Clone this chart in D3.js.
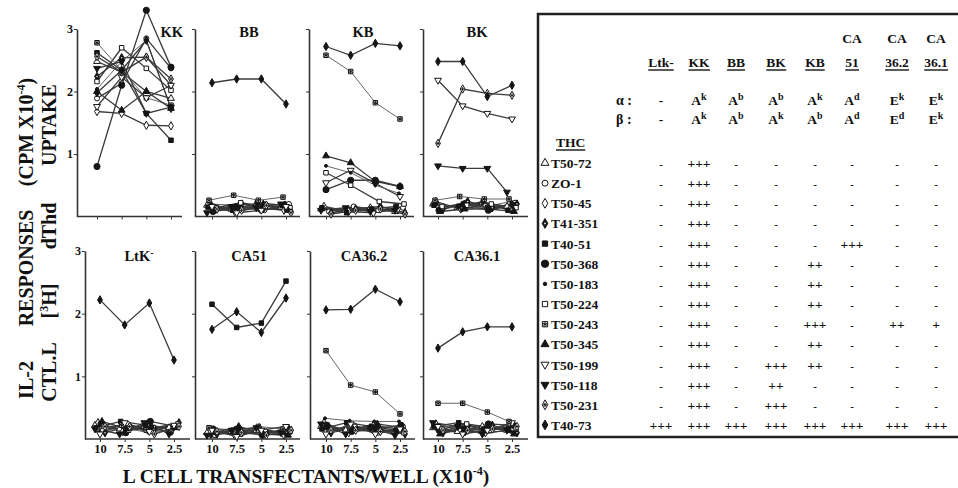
<!DOCTYPE html>
<html>
<head>
<meta charset="utf-8">
<script src="https://cdn.jsdelivr.net/npm/d3@7"></script>
<style>
body { margin: 0; background: #fff; }
svg { display: block; }
text { font-family: "Liberation Serif", "Times New Roman", serif; fill: #111; }
</style>
</head>
<body>
<svg id="fig" width="958" height="488"></svg>
<script>
let doses = ["10", "7.5", "5", "2.5"]
let y_ticks = [1, 2, 3]
let clones = ["T50-72", "ZO-1", "T50-45", "T41-351", "T40-51", "T50-368", "T50-183",
    "T50-224", "T50-243", "T50-345", "T50-199", "T50-118", "T50-231", "T40-73"]
let panel_titles = ["KK", "BB", "KB", "BK", "LtK", "CA51", "CA36.2", "CA36.1"]

// [clone, dose 10, 7.5, 5, 2.5]  (CPM x10^-4)
let kk_data = [
    ["T50-72", 2.48, 2.31, 2.00, 1.89],
    ["ZO-1", 1.89, 2.13, 2.85, 2.37],
    ["T50-45", 1.68, 1.65, 1.46, 1.45],
    ["T41-351", 2.24, 2.54, 2.55, 2.10],
    ["T40-51", 2.62, 2.34, 1.65, 1.22],
    ["T50-368", 0.80, 2.10, 3.30, 2.39],
    ["T50-183", 2.04, 2.48, 2.82, 1.73],
    ["T50-224", 2.16, 2.70, 2.37, 2.02],
    ["T50-243", 2.78, 2.34, 1.90, 1.78],
    ["T50-345", 2.00, 1.70, 2.00, 1.73],
    ["T50-199", 1.76, 2.23, 1.90, 2.10],
    ["T50-118", 2.37, 2.48, 1.65, 1.75],
    ["T50-231", 2.56, 2.31, 2.55, 2.20],
    ["T40-73", 1.98, 2.34, 2.82, 1.73],
]
let bb_data = [
    ["T50-72", 0.18, 0.12, 0.20, 0.15],
    ["ZO-1", 0.10, 0.16, 0.10, 0.20],
    ["T50-45", 0.22, 0.08, 0.14, 0.10],
    ["T41-351", 0.12, 0.20, 0.18, 0.08],
    ["T40-51", 0.15, 0.10, 0.22, 0.18],
    ["T50-368", 0.08, 0.14, 0.12, 0.12],
    ["T50-183", 0.20, 0.18, 0.08, 0.22],
    ["T50-224", 0.14, 0.22, 0.16, 0.14],
    ["T50-345", 0.10, 0.12, 0.20, 0.10],
    ["T50-199", 0.16, 0.06, 0.10, 0.16],
    ["T50-118", 0.06, 0.16, 0.14, 0.20],
    ["T50-231", 0.12, 0.10, 0.18, 0.06],
    ["T50-243", 0.26, 0.34, 0.26, 0.31],
    ["T40-73", 2.14, 2.20, 2.20, 1.80],
]
let kb_data = [
    ["T50-72", 0.12, 0.10, 0.14, 0.08],
    ["ZO-1", 0.08, 0.16, 0.10, 0.14],
    ["T50-45", 0.16, 0.08, 0.06, 0.12],
    ["T41-351", 0.06, 0.12, 0.16, 0.06],
    ["T40-51", 0.14, 0.06, 0.12, 0.16],
    ["T50-118", 0.10, 0.14, 0.08, 0.10],
    ["T50-231", 0.04, 0.10, 0.12, 0.04],
    ["T50-368", 0.43, 0.58, 0.58, 0.48],
    ["T50-199", 0.54, 0.74, 0.53, 0.32],
    ["T50-224", 0.70, 0.50, 0.24, 0.20],
    ["T50-183", 0.81, 0.70, 0.50, 0.37],
    ["T50-345", 0.97, 0.86, 0.56, 0.48],
    ["T50-243", 2.58, 2.32, 1.82, 1.56],
    ["T40-73", 2.72, 2.58, 2.77, 2.73],
]
let bk_data = [
    ["T50-72", 0.20, 0.14, 0.22, 0.16],
    ["ZO-1", 0.14, 0.22, 0.12, 0.22],
    ["T50-45", 0.24, 0.12, 0.18, 0.12],
    ["T41-351", 0.12, 0.24, 0.14, 0.20],
    ["T40-51", 0.18, 0.16, 0.24, 0.10],
    ["T50-368", 0.10, 0.20, 0.10, 0.18],
    ["T50-183", 0.22, 0.10, 0.16, 0.24],
    ["T50-224", 0.16, 0.18, 0.20, 0.14],
    ["T50-345", 0.08, 0.12, 0.12, 0.08],
    ["T50-243", 0.26, 0.32, 0.28, 0.28],
    ["T50-118", 0.81, 0.77, 0.77, 0.39],
    ["T50-231", 1.17, 2.04, 1.97, 1.94],
    ["T50-199", 2.18, 1.77, 1.65, 1.56],
    ["T40-73", 2.48, 2.48, 1.92, 2.10],
]
let ltk_data = [
    ["T50-72", 0.22, 0.16, 0.20, 0.18],
    ["ZO-1", 0.14, 0.24, 0.12, 0.22],
    ["T50-45", 0.26, 0.12, 0.24, 0.14],
    ["T41-351", 0.10, 0.20, 0.16, 0.26],
    ["T40-51", 0.18, 0.28, 0.22, 0.10],
    ["T50-368", 0.24, 0.10, 0.28, 0.20],
    ["T50-183", 0.12, 0.18, 0.10, 0.16],
    ["T50-224", 0.20, 0.14, 0.18, 0.24],
    ["T50-243", 0.16, 0.22, 0.14, 0.12],
    ["T50-345", 0.28, 0.16, 0.20, 0.18],
    ["T50-199", 0.08, 0.26, 0.12, 0.22],
    ["T50-118", 0.16, 0.08, 0.26, 0.08],
    ["T50-231", 0.20, 0.20, 0.08, 0.20],
    ["T40-73", 2.22, 1.82, 2.17, 1.26],
]
let ca51_data = [
    ["T50-72", 0.10, 0.12, 0.14, 0.10],
    ["ZO-1", 0.06, 0.16, 0.08, 0.16],
    ["T50-45", 0.14, 0.06, 0.18, 0.06],
    ["T41-351", 0.08, 0.10, 0.10, 0.14],
    ["T50-368", 0.16, 0.14, 0.06, 0.18],
    ["T50-183", 0.04, 0.18, 0.16, 0.08],
    ["T50-224", 0.12, 0.08, 0.12, 0.12],
    ["T50-243", 0.18, 0.12, 0.20, 0.16],
    ["T50-345", 0.10, 0.20, 0.08, 0.06],
    ["T50-199", 0.14, 0.04, 0.14, 0.20],
    ["T50-118", 0.06, 0.14, 0.18, 0.10],
    ["T50-231", 0.12, 0.10, 0.06, 0.14],
    ["T40-51", 2.15, 1.78, 1.85, 2.52],
    ["T40-73", 1.75, 2.03, 1.70, 2.25],
]
let ca362_data = [
    ["T50-72", 0.20, 0.14, 0.18, 0.12],
    ["ZO-1", 0.12, 0.22, 0.10, 0.20],
    ["T50-45", 0.26, 0.10, 0.22, 0.16],
    ["T41-351", 0.10, 0.18, 0.14, 0.08],
    ["T40-51", 0.16, 0.26, 0.20, 0.14],
    ["T50-368", 0.22, 0.12, 0.16, 0.22],
    ["T50-224", 0.14, 0.20, 0.12, 0.10],
    ["T50-345", 0.18, 0.16, 0.24, 0.18],
    ["T50-199", 0.08, 0.24, 0.08, 0.16],
    ["T50-118", 0.24, 0.08, 0.18, 0.06],
    ["T50-231", 0.14, 0.14, 0.12, 0.12],
    ["T50-183", 0.33, 0.29, 0.28, 0.28],
    ["T50-243", 1.41, 0.86, 0.75, 0.40],
    ["T40-73", 2.06, 2.07, 2.39, 2.19],
]
let ca361_data = [
    ["T50-72", 0.18, 0.12, 0.20, 0.14],
    ["ZO-1", 0.12, 0.22, 0.14, 0.20],
    ["T50-45", 0.24, 0.14, 0.10, 0.24],
    ["T41-351", 0.10, 0.20, 0.22, 0.10],
    ["T40-51", 0.20, 0.26, 0.16, 0.16],
    ["T50-368", 0.14, 0.10, 0.24, 0.22],
    ["T50-183", 0.22, 0.18, 0.12, 0.12],
    ["T50-224", 0.16, 0.24, 0.18, 0.18],
    ["T50-345", 0.08, 0.16, 0.20, 0.08],
    ["T50-199", 0.20, 0.08, 0.14, 0.26],
    ["T50-118", 0.26, 0.20, 0.08, 0.14],
    ["T50-231", 0.14, 0.14, 0.16, 0.20],
    ["T50-243", 0.57, 0.57, 0.43, 0.28],
    ["T40-73", 1.45, 1.71, 1.79, 1.79],
]
let panel_data = [kk_data, bb_data, kb_data, bk_data, ltk_data, ca51_data, ca362_data, ca361_data]

// table on the right
let head_top = ["", "", "", "", "", "CA", "CA", "CA"]
let head_cols = ["Ltk-", "KK", "BB", "BK", "KB", "51", "36.2", "36.1"]
let alpha_chain = ["-", "A^k", "A^b", "A^b", "A^k", "A^d", "E^k", "E^k"]
let beta_chain = ["-", "A^k", "A^b", "A^k", "A^b", "A^d", "E^d", "E^k"]
let reactivity = [
    ["-", "+++", "-", "-", "-", "-", "-", "-"],
    ["-", "+++", "-", "-", "-", "-", "-", "-"],
    ["-", "+++", "-", "-", "-", "-", "-", "-"],
    ["-", "+++", "-", "-", "-", "-", "-", "-"],
    ["-", "+++", "-", "-", "-", "+++", "-", "-"],
    ["-", "+++", "-", "-", "++", "-", "-", "-"],
    ["-", "+++", "-", "-", "++", "-", "-", "-"],
    ["-", "+++", "-", "-", "++", "-", "-", "-"],
    ["-", "+++", "-", "-", "+++", "-", "++", "+"],
    ["-", "+++", "-", "-", "++", "-", "-", "-"],
    ["-", "+++", "-", "+++", "++", "-", "-", "-"],
    ["-", "+++", "-", "++", "-", "-", "-", "-"],
    ["-", "+++", "-", "+++", "-", "-", "-", "-"],
    ["+++", "+++", "+++", "+++", "+++", "+++", "+++", "+++"],
]

let svg = d3.select("#fig")
let ink = "#151515"
let asterisk = d3.symbolAsterisk || d3.symbolCross

let sym_style = [
    {shape: d3.symbolTriangle, fill: false},
    {shape: d3.symbolCircle, fill: false},
    {shape: d3.symbolDiamond, fill: false},
    {shape: d3.symbolDiamond, fill: true, hole: true},
    {shape: d3.symbolSquare, fill: true},
    {shape: d3.symbolCircle, fill: true, k: 1.5},
    {shape: d3.symbolCircle, fill: true, k: 0.35},
    {shape: d3.symbolSquare, fill: false},
    {shape: d3.symbolSquare, fill: false, star: true},
    {shape: d3.symbolTriangle, fill: true},
    {shape: d3.symbolTriangle, fill: false, flip: true},
    {shape: d3.symbolTriangle, fill: true, flip: true},
    {shape: d3.symbolDiamond, fill: false, cross: true},
    {shape: d3.symbolDiamond, fill: true},
]

function draw_symbol(g, idx, x, y, size){
    let st = sym_style[idx]
    let area = size * (st.k || 1)
    let grp = g.append("g")
        .attr("transform", "translate(" + x + "," + y + ")" + (st.flip ? " rotate(180)" : ""))
    grp.append("path")
        .attr("d", d3.symbol().type(st.shape).size(area)())
        .attr("fill", st.fill ? ink : "#fff")
        .attr("stroke", ink)
        .attr("stroke-width", 1)
    if(st.hole){
        grp.append("circle").attr("r", Math.sqrt(area) * 0.16).attr("fill", "#fff")
    }
    if(st.cross){
        grp.append("path").attr("d", d3.symbol().type(d3.symbolCross).size(area * 0.3)()).attr("fill", ink)
    }
    if(st.star){
        grp.append("path").attr("d", d3.symbol().type(asterisk).size(area * 0.8)())
            .attr("fill", "none").attr("stroke", ink).attr("stroke-width", 1)
    }
}

// ---------- small multiples ----------
let panel_layout = [
    {ax: 77, px: 97, row: 0}, {ax: 195, px: 212, row: 0}, {ax: 309, px: 326, row: 0}, {ax: 423, px: 438, row: 0},
    {ax: 85, px: 100, row: 1}, {ax: 195, px: 212, row: 1}, {ax: 310, px: 326, row: 1}, {ax: 423, px: 438, row: 1},
]
let row_y = [{y0: 216.5, y3: 29, title: 37}, {y0: 439, y3: 251, title: 261}]
let cluster_shift = [-5, 3, -2, 5, -4, 1, -1, 4, -3, 2, 0, -5, 5, -2]

panel_data.forEach((rows, p) => {
    let lay = panel_layout[p]
    let yr = row_y[lay.row]
    let x = d3.scalePoint().domain(doses).range([lay.px, lay.px + 74])
    let y = d3.scaleLinear().domain([0, 3]).range([yr.y0, yr.y3])
    let g = svg.append("g")

    let y_axis = d3.axisLeft(y)
        .tickValues(y_ticks)
        .tickSize(3)
        .tickSizeOuter(0)
        .tickPadding(1)
        .tickFormat(p % 4 == 0 ? d3.format("d") : "")
    let ya = g.append("g").attr("transform", "translate(" + lay.ax + ",0)").call(y_axis)
    ya.select(".domain").attr("stroke", "#333").attr("stroke-width", 1.6)
    ya.selectAll(".tick line").attr("stroke", "#333")
    ya.selectAll("text").attr("font-size", 12).attr("font-weight", "bold")
        .attr("font-family", "Liberation Serif, serif").attr("fill", ink)

    g.append("line")
        .attr("x1", lay.ax).attr("x2", lay.ax + 105)
        .attr("y1", yr.y0).attr("y2", yr.y0)
        .attr("stroke", "#333").attr("stroke-width", 1.6)
    let x_axis = d3.axisBottom(x).tickSize(3).tickPadding(2).tickFormat(lay.row ? (d => d) : "")
    let xa = g.append("g").attr("transform", "translate(0," + yr.y0 + ")").call(x_axis)
    xa.select(".domain").remove()
    xa.selectAll(".tick line").attr("stroke", "#333")
    xa.selectAll("text").attr("font-size", 12.5).attr("font-weight", "bold")
        .attr("font-family", "Liberation Serif, serif").attr("fill", ink)

    let px = (i, v, ci) => x(doses[i]) + (v < 0.4 ? cluster_shift[ci] : 0)
    let line = d3.line()
        .x(d => d.x)
        .y(d => y(d.v))

    let series = rows.map(r => {
        let ci = clones.indexOf(r[0])
        return {ci: ci, pts: r.slice(1).map((v, i) => ({x: px(i, v, ci), v: v}))}
    })

    series.forEach(s => {
        g.append("path")
            .datum(s.pts)
            .attr("d", line)
            .attr("fill", "none")
            .attr("stroke", s.ci == 6 || s.ci == 8 ? "#666" : "#3a3a3a")
            .attr("stroke-width", s.ci == 6 || s.ci == 8 ? 1 : 1.3)
    })
    series.forEach(s => {
        s.pts.forEach(d => draw_symbol(g, s.ci, d.x, y(d.v), 20))
    })

    let title = g.append("text")
        .attr("y", yr.title)
        .attr("font-size", 14.5)
        .attr("font-weight", "bold")
    if(p == 0){
        title.attr("x", lay.ax + 106).attr("text-anchor", "end").text(panel_titles[p])
    } else {
        title.attr("x", lay.ax + 54).attr("text-anchor", "middle").text(panel_titles[p])
    }
    if(p == 4){
        title.append("tspan").attr("dy", -5).attr("font-size", 10).text("-")
    }
})

// axis titles
let vlabels = [
    {t: "(CPM X10", sup: "-4", end: ")", x: 33, y: 132},
    {t: "RESPONSES", x: 33, y: 268},
    {t: "IL-2", x: 33, y: 380},
    {t: "UPTAKE", x: 56, y: 125},
    {t: "dThd", x: 56, y: 226},
    {t: "[", sup: "3", end: "H]", x: 56, y: 301},
    {t: "CTL.L", x: 56, y: 372},
]
vlabels.forEach(l => {
    let tx = svg.append("text")
        .attr("transform", "translate(" + l.x + "," + l.y + ") rotate(-90)")
        .attr("text-anchor", "middle")
        .attr("font-size", 20)
        .attr("font-weight", "bold")
        .text(l.t)
    if(l.sup){
        tx.append("tspan").attr("dy", -8).attr("font-size", 12).text(l.sup)
        tx.append("tspan").attr("dy", 8).text(l.end)
    }
})

let xl = svg.append("text")
    .attr("x", 306).attr("y", 483)
    .attr("text-anchor", "middle")
    .attr("font-size", 19.5)
    .attr("font-weight", "bold")
    .text("L CELL TRANSFECTANTS/WELL (X10")
xl.append("tspan").attr("dy", -8).attr("font-size", 12).text("-4")
xl.append("tspan").attr("dy", 8).text(")")

// ---------- table ----------
let col_x = [661, 699, 736, 776, 815, 852, 897, 936]
let row0 = 163, row_step = 20.15
let tbl = svg.append("g").attr("font-weight", "bold")

tbl.append("rect")
    .attr("x", 538).attr("y", 14).attr("width", 440).attr("height", 423)
    .attr("fill", "none").attr("stroke", "#222").attr("stroke-width", 2.5)

function underline(node, y){
    let b = node.node().getBBox()
    tbl.append("line")
        .attr("x1", b.x).attr("x2", b.x + b.width)
        .attr("y1", y).attr("y2", y)
        .attr("stroke", "#333").attr("stroke-width", 1.6)
}

head_top.forEach((h, i) => {
    if(h) tbl.append("text").attr("x", col_x[i]).attr("y", 43).attr("text-anchor", "middle")
        .attr("font-size", 13.5).text(h)
})
head_cols.forEach((h, i) => {
    let t = tbl.append("text").attr("x", col_x[i]).attr("y", 67).attr("text-anchor", "middle")
        .attr("font-size", 13.5).text(h)
    underline(t, 70)
})

function chain_cell(val, x, y){
    let t = tbl.append("text").attr("x", x).attr("y", y).attr("text-anchor", "middle").attr("font-size", 13.5)
    if(val == "-"){
        t.text("-")
        return
    }
    let parts = val.split("^")
    t.text(parts[0])
    t.append("tspan").attr("dy", -5).attr("font-size", 10).text(parts[1])
}

tbl.append("text").attr("x", 616).attr("y", 105).attr("font-size", 14).text("\u03b1 :")
tbl.append("text").attr("x", 616).attr("y", 124).attr("font-size", 14).text("\u03b2 :")
alpha_chain.forEach((v, i) => chain_cell(v, col_x[i], 105))
beta_chain.forEach((v, i) => chain_cell(v, col_x[i], 124))

let thc = tbl.append("text").attr("x", 556).attr("y", 147).attr("font-size", 13.5).text("THC")
underline(thc, 150)

clones.forEach((c, r) => {
    let yy = row0 + r * row_step
    draw_symbol(tbl, r, 545, yy, 28)
    tbl.append("text").attr("x", 551).attr("y", yy + 5).attr("font-size", 13.5).text(c)
    reactivity[r].forEach((v, i) => {
        tbl.append("text").attr("x", col_x[i]).attr("y", yy + 5).attr("text-anchor", "middle")
            .attr("font-size", v == "-" ? 11 : 13.5).text(v)
    })
})
</script>
</body>
</html>
